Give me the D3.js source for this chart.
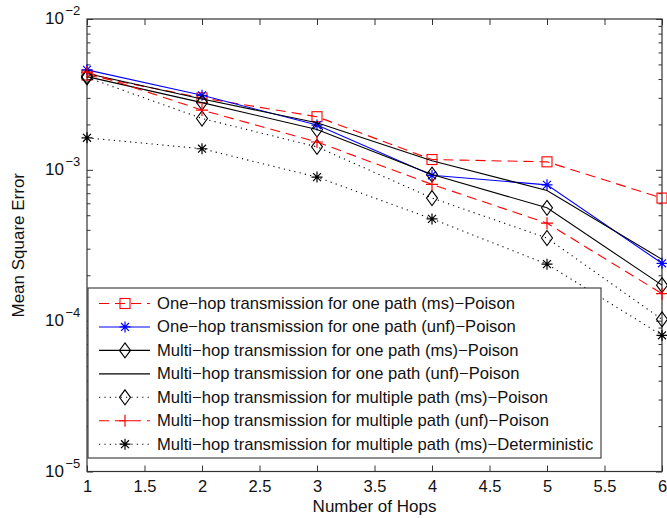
<!DOCTYPE html>
<html>
<head>
<meta charset="utf-8">
<script src="https://cdn.jsdelivr.net/npm/d3@7"></script>
<style>
  html, body { margin: 0; padding: 0; background: #fff; }
  svg { display: block; font-family: "Liberation Sans", Arial, Helvetica, sans-serif; }
</style>
</head>
<body>
<svg id="chart" width="667" height="518"></svg>
<script>
// Number of hops on the x axis
const hops = [1, 2, 3, 4, 5, 6];

// Mean square error per scheme
const oneHopOnePathMs   = [4.25e-3, 3.0e-3, 2.25e-3, 1.17e-3, 1.13e-3, 6.5e-4];
const oneHopOnePathUnf  = [4.6e-3, 3.12e-3, 1.98e-3, 9.2e-4, 7.95e-4, 2.4e-4];
const multiHopOnePathMs = [4.15e-3, 2.79e-3, 1.85e-3, 9.3e-4, 5.6e-4, 1.72e-4];
const multiHopOnePathUnf = [4.35e-3, 2.95e-3, 2.05e-3, 1.15e-3, 7.3e-4, 2.55e-4];
const multiHopMultiPathMs = [4.1e-3, 2.19e-3, 1.42e-3, 6.5e-4, 3.53e-4, 1.02e-4];
const multiHopMultiPathUnf = [4.45e-3, 2.49e-3, 1.53e-3, 8.0e-4, 4.43e-4, 1.51e-4];
const multiHopMultiPathDet = [1.63e-3, 1.38e-3, 8.95e-4, 4.73e-4, 2.37e-4, 8.0e-5];

const seriesNames = [
  "One\u2212hop transmission for one path (ms)\u2212Poison",
  "One\u2212hop transmission for one path (unf)\u2212Poison",
  "Multi\u2212hop transmission for one path (ms)\u2212Poison",
  "Multi\u2212hop transmission for one path (unf)\u2212Poison",
  "Multi\u2212hop transmission for multiple path (ms)\u2212Poison",
  "Multi\u2212hop transmission for multiple path (unf)\u2212Poison",
  "Multi\u2212hop transmission for multiple path (ms)\u2212Deterministic"
];

const xTickValues = [1, 1.5, 2, 2.5, 3, 3.5, 4, 4.5, 5, 5.5, 6];
const yDecades = [1e-5, 1e-4, 1e-3, 1e-2];
const yDecadeExponents = ["\u22125", "\u22124", "\u22123", "\u22122"];

// Styles per series
const styles = [
  { color: "#ff0000", dash: "10,6", marker: "square" },
  { color: "#0000ff", dash: null, marker: "star" },
  { color: "#000000", dash: null, marker: "diamond" },
  { color: "#000000", dash: null, marker: "none" },
  { color: "#000000", dash: "1.2,4.2", marker: "diamond" },
  { color: "#ff0000", dash: "10,6", marker: "plus" },
  { color: "#000000", dash: "1.2,4.2", marker: "asterisk" }
];

const seriesValues = [
  oneHopOnePathMs, oneHopOnePathUnf, multiHopOnePathMs, multiHopOnePathUnf,
  multiHopMultiPathMs, multiHopMultiPathUnf, multiHopMultiPathDet
];

const svg = d3.select("#chart");
const plot = { left: 87, right: 662, top: 19, bottom: 471.5 };

const x = d3.scaleLinear().domain([1, 6]).range([plot.left, plot.right]);
const y = d3.scaleLog().domain([1e-5, 1e-2]).range([plot.bottom, plot.top]);

// minor log ticks
const minorTicks = [];
for (let e = -5; e < -2; e++) {
  for (let m = 2; m <= 9; m++) minorTicks.push(m * Math.pow(10, e));
}

const axisColor = "#333";

// Axes via d3 axis generators (ticks drawn inward)
const gx = svg.append("g").attr("transform", `translate(0,${plot.bottom})`)
  .call(d3.axisBottom(x).tickValues(xTickValues).tickSizeInner(-6).tickSizeOuter(0).tickPadding(9)
    .tickFormat(d3.format("")));
const gxTop = svg.append("g").attr("transform", `translate(0,${plot.top})`)
  .call(d3.axisTop(x).tickValues(xTickValues).tickSizeInner(-6).tickSizeOuter(0).tickFormat(""));
const gyL = svg.append("g").attr("transform", `translate(${plot.left},0)`)
  .call(d3.axisLeft(y).tickValues(yDecades).tickSizeInner(-6).tickSizeOuter(0).tickFormat(""));
const gyR = svg.append("g").attr("transform", `translate(${plot.right},0)`)
  .call(d3.axisRight(y).tickValues(yDecades).tickSizeInner(-6).tickSizeOuter(0).tickFormat(""));
const gyLm = svg.append("g").attr("transform", `translate(${plot.left},0)`)
  .call(d3.axisLeft(y).tickValues(minorTicks).tickSizeInner(-3.5).tickSizeOuter(0).tickFormat(""));
const gyRm = svg.append("g").attr("transform", `translate(${plot.right},0)`)
  .call(d3.axisRight(y).tickValues(minorTicks).tickSizeInner(-3.5).tickSizeOuter(0).tickFormat(""));

[gx, gxTop, gyL, gyR, gyLm, gyRm].forEach(g => {
  g.select(".domain").remove();
  g.selectAll(".tick line").attr("stroke", axisColor).attr("stroke-width", 1);
});
gx.selectAll(".tick text").attr("font-size", 16.5).attr("fill", "#111")
  .attr("font-family", "Liberation Sans, Arial, sans-serif");

// Box
svg.append("rect")
  .attr("x", plot.left).attr("y", plot.top)
  .attr("width", plot.right - plot.left).attr("height", plot.bottom - plot.top)
  .attr("fill", "none").attr("stroke", axisColor).attr("stroke-width", 1.2);

// y decade labels: 10 with superscript exponent
yDecades.forEach((d, i) => {
  svg.append("text")
    .attr("x", 64).attr("y", y(d) + 5)
    .attr("text-anchor", "end")
    .attr("font-size", 17).attr("fill", "#111")
    .text("10");
  svg.append("text")
    .attr("x", 65.5).attr("y", y(d) - 4)
    .attr("font-size", 13).attr("fill", "#111")
    .text(yDecadeExponents[i]);
});

// Axis titles
svg.append("text")
  .attr("x", (plot.left + plot.right) / 2).attr("y", 512)
  .attr("text-anchor", "middle").attr("font-size", 17).attr("fill", "#111")
  .text("Number of Hops");
svg.append("text")
  .attr("transform", `translate(24,${(plot.top + plot.bottom) / 2}) rotate(-90)`)
  .attr("text-anchor", "middle").attr("font-size", 17).attr("fill", "#111")
  .text("Mean Square Error");

// Marker drawing
function drawMarker(g, type, cx, cy, color) {
  if (type === "square") {
    g.append("rect").attr("x", cx - 5).attr("y", cy - 5).attr("width", 10).attr("height", 10)
      .attr("fill", "none").attr("stroke", color).attr("stroke-width", 1.1);
  } else if (type === "diamond") {
    g.append("path").attr("d", `M${cx},${cy - 7.5}L${cx + 5.5},${cy}L${cx},${cy + 7.5}L${cx - 5.5},${cy}Z`)
      .attr("fill", "none").attr("stroke", color).attr("stroke-width", 1.1);
  } else if (type === "plus") {
    g.append("path").attr("d", `M${cx - 6},${cy}H${cx + 6}M${cx},${cy - 6}V${cy + 6}`)
      .attr("stroke", color).attr("stroke-width", 1.2);
  } else if (type === "star" || type === "asterisk") {
    const r = 5.5, rd = r * 0.72;
    g.append("path").attr("d",
      `M${cx - r},${cy}H${cx + r}M${cx},${cy - r}V${cy + r}` +
      `M${cx - rd},${cy - rd}L${cx + rd},${cy + rd}M${cx - rd},${cy + rd}L${cx + rd},${cy - rd}`)
      .attr("stroke", color).attr("stroke-width", 1.2);
  }
}

const line = d3.line().x((d, i) => x(hops[i])).y(d => y(d));

const gLines = svg.append("g");
seriesValues.forEach((vals, k) => {
  const s = styles[k];
  const g = gLines.append("g");
  g.append("path").attr("d", line(vals))
    .attr("fill", "none").attr("stroke", s.color).attr("stroke-width", 1.1)
    .attr("stroke-dasharray", s.dash);
  vals.forEach((v, i) => drawMarker(g, s.marker, x(hops[i]), y(v), s.color));
});

// Legend
const legend = { x: 88, y: 288, w: 513, h: 170, row: 23.45 };
const lg = svg.append("g");
lg.append("rect").attr("x", legend.x).attr("y", legend.y)
  .attr("width", legend.w).attr("height", legend.h)
  .attr("fill", "#fff").attr("stroke", axisColor).attr("stroke-width", 1.1);
seriesNames.forEach((name, k) => {
  const s = styles[k];
  const cy = legend.y + 15.5 + k * legend.row;
  lg.append("line").attr("x1", 99).attr("x2", 150).attr("y1", cy).attr("y2", cy)
    .attr("stroke", s.color).attr("stroke-width", 1.1).attr("stroke-dasharray", s.dash);
  drawMarker(lg, s.marker, 125, cy, s.color);
  lg.append("text").attr("x", 157).attr("y", cy + 5.5)
    .attr("font-size", 16.6).attr("fill", "#111").text(name);
});
</script>
</body>
</html>
